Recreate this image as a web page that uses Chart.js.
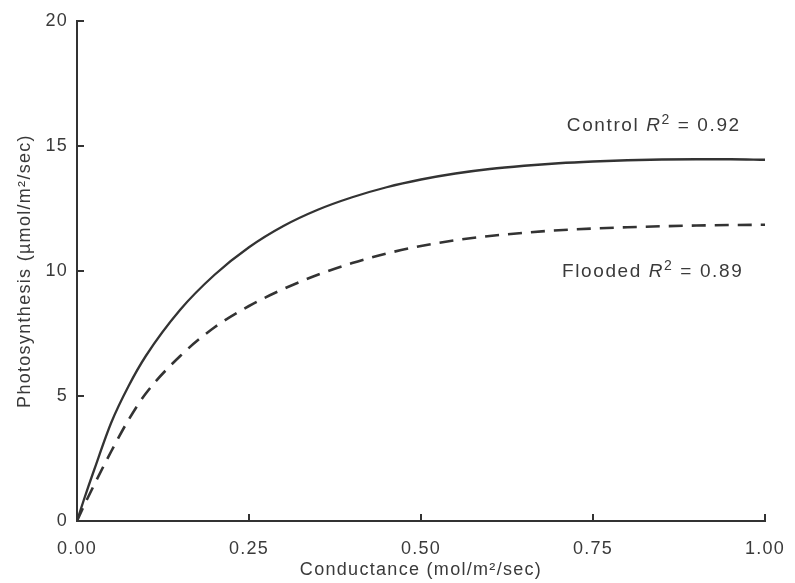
<!DOCTYPE html>
<html>
<head>
<meta charset="utf-8">
<script src="https://cdn.jsdelivr.net/npm/chart.js@4/dist/chart.umd.min.js"></script>
<style>
  html, body { margin: 0; padding: 0; background: #fff; }
  #wrap { width: 795px; height: 583px; }
</style>
</head>
<body>
<div id="wrap"><canvas id="c" width="795" height="583"></canvas></div>
<script>
// ---- data ----
const conductance = [0, 0.01, 0.025, 0.05, 0.075, 0.1, 0.15, 0.2, 0.25, 0.3, 0.35, 0.4, 0.45, 0.5, 0.55, 0.6, 0.65, 0.7, 0.75, 0.8, 0.85, 0.9, 0.95, 1.0];
const controlValues = [0, 0.85, 2.05, 3.95, 5.4, 6.6, 8.45, 9.85, 10.95, 11.8, 12.45, 12.95, 13.35, 13.66, 13.9, 14.08, 14.21, 14.31, 14.38, 14.43, 14.46, 14.47, 14.47, 14.45];
const floodedValues = [0, 0.6, 1.45, 2.8, 4.05, 5.1, 6.6, 7.75, 8.6, 9.28, 9.85, 10.32, 10.7, 11.0, 11.23, 11.4, 11.53, 11.63, 11.7, 11.75, 11.79, 11.82, 11.84, 11.85];
const seriesNames = ["Control", "Flooded"];
const rSquared = ["0.92", "0.89"];
const xTickValues = [0, 0.25, 0.5, 0.75, 1.0];
const yTickValues = [0, 5, 10, 15, 20];

const INK = '#333333';
const TXT = '#3a3a3a';
const FONT = '"Liberation Sans", Arial, sans-serif';

function pts(xs, ys) { return xs.map((x, i) => ({ x: x, y: ys[i] })); }

const annotationPos = [
  { x: 0.712, y: 15.6 },
  { x: 0.705, y: 9.76 }
];

const spacing = {
  id: 'spacing',
  beforeDraw(chart) { chart.ctx.letterSpacing = '1.3px'; },
  afterDraw(chart) { chart.ctx.letterSpacing = '0px'; }
};

const innerTicks = {
  id: 'innerTicks',
  afterDraw(chart) {
    const ctx = chart.ctx;
    const xs = chart.scales.x, ys = chart.scales.y;
    ctx.save();
    ctx.strokeStyle = INK;
    ctx.lineWidth = 2;
    xTickValues.forEach(v => {
      const px = xs.getPixelForValue(v);
      ctx.beginPath(); ctx.moveTo(px, ys.bottom); ctx.lineTo(px, ys.bottom - 7); ctx.stroke();
    });
    yTickValues.forEach(v => {
      const py = ys.getPixelForValue(v);
      ctx.beginPath(); ctx.moveTo(xs.left, py); ctx.lineTo(xs.left + 7, py); ctx.stroke();
    });
    ctx.restore();
  }
};

const labelsPlugin = {
  id: 'rLabels',
  afterDraw(chart) {
    const ctx = chart.ctx;
    const xs = chart.scales.x, ys = chart.scales.y;
    ctx.save();
    ctx.fillStyle = TXT;
    ctx.textBaseline = 'alphabetic';
    ctx.textAlign = 'left';
    seriesNames.forEach((name, i) => {
      let px = xs.getPixelForValue(annotationPos[i].x);
      const py = ys.getPixelForValue(annotationPos[i].y);
      ctx.letterSpacing = '1.6px';
      ctx.font = '19px ' + FONT;
      ctx.fillText(name + ' ', px, py);
      px += ctx.measureText(name + ' ').width;
      ctx.font = 'italic 19px ' + FONT;
      ctx.fillText('R', px, py);
      px += ctx.measureText('R').width;
      ctx.font = '14px ' + FONT;
      ctx.fillText('2', px, py - 7);
      px += ctx.measureText('2').width;
      ctx.font = '19px ' + FONT;
      ctx.fillText(' = ' + rSquared[i], px, py);
    });
    ctx.letterSpacing = '0px';
    ctx.restore();
  }
};

new Chart(document.getElementById('c'), {
  type: 'line',
  data: {
    datasets: [
      {
        label: seriesNames[0],
        data: pts(conductance, controlValues),
        borderColor: INK,
        borderWidth: 2.3,
        pointRadius: 0,
        cubicInterpolationMode: 'monotone',
        fill: false
      },
      {
        label: seriesNames[1],
        data: pts(conductance, floodedValues),
        borderColor: INK,
        borderWidth: 2.6,
        borderDash: [14, 9],
        pointRadius: 0,
        cubicInterpolationMode: 'monotone',
        fill: false
      }
    ]
  },
  options: {
    responsive: false,
    animation: false,
    events: [],
    layout: { padding: { top: 21, right: 30, left: 0, bottom: 0 } },
    plugins: { legend: { display: false }, tooltip: { enabled: false } },
    scales: {
      x: {
        type: 'linear',
        min: 0, max: 1,
        afterBuildTicks(scale) { scale.ticks = xTickValues.map(v => ({ value: v })); },
        afterFit(scale) { scale.height = 62; scale.paddingRight = 0; scale.paddingLeft = 0; },
        grid: { display: false, drawTicks: false },
        border: { display: true, color: INK, width: 2 },
        ticks: {
          padding: 17,
          color: TXT,
          font: { family: FONT, size: 18 },
          callback: v => Number(v).toFixed(2),
          maxRotation: 0
        },
        title: {
          display: true,
          text: 'Conductance (mol/m²/sec)',
          color: TXT,
          font: { family: FONT, size: 18 },
          padding: { top: 0, bottom: 2 }
        }
      },
      y: {
        type: 'linear',
        min: 0, max: 20,
        afterBuildTicks(scale) { scale.ticks = yTickValues.map(v => ({ value: v })); },
        afterFit(scale) { scale.width = 77; scale.paddingTop = 0; scale.paddingBottom = 0; },
        grid: { display: false, drawTicks: false },
        border: { display: true, color: INK, width: 2 },
        ticks: {
          padding: 9,
          color: TXT,
          font: { family: FONT, size: 18 },
          callback: v => String(v)
        },
        title: {
          display: true,
          text: 'Photosynthesis (µmol/m²/sec)',
          color: TXT,
          font: { family: FONT, size: 18 },
          padding: { top: 14, bottom: 0 }
        }
      }
    }
  },
  plugins: [spacing, innerTicks, labelsPlugin]
});
</script>
</body>
</html>
